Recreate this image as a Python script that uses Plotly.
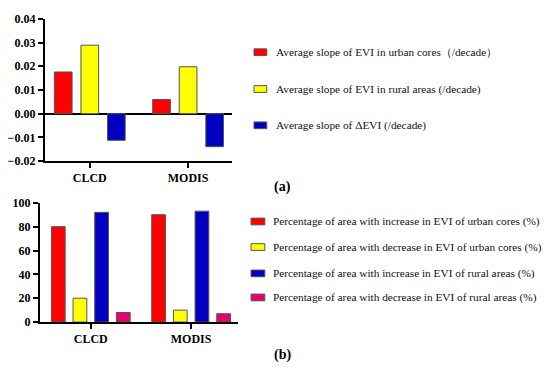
import plotly.graph_objects as go

# Page is rendered with an 8px body margin, so positions below are page pixels
# converted into figure (paper) coordinates.
OFF = 8
W, H = 550 - OFF, 373 - OFF

categories = ["CLCD", "MODIS"]

# Panel (a): average slopes (/decade)
slope_urban = [0.0176, 0.0060]
slope_rural = [0.0289, 0.0198]
slope_delta = [-0.0112, -0.0139]
names_a = [
    "Average slope of EVI in urban cores（/decade）",
    "Average slope of EVI in rural areas (/decade)",
    "Average slope of ΔEVI (/decade)",
]

# Panel (b): percentage of area (%)
pct_inc_urban = [80, 90]
pct_dec_urban = [20, 10]
pct_inc_rural = [92, 93]
pct_dec_rural = [8, 7]
names_b = [
    "Percentage of area with increase in EVI of urban cores (%)",
    "Percentage of area with decrease in EVI of urban cores (%)",
    "Percentage of area with increase in EVI of rural areas (%)",
    "Percentage of area with decrease in EVI of rural areas (%)",
]

yticks_a = [-0.02, -0.01, 0.0, 0.01, 0.02, 0.03, 0.04]
yticks_b = [0, 20, 40, 60, 80, 100]

colors_a = ["#FF0000", "#FFFF00", "#0000C0"]
colors_b = ["#FF0000", "#FFFF00", "#0000C0", "#E8036C"]
outline = "#555555"
FONT = "Liberation Serif"

fig = go.Figure()

# panel a bars
wa = 0.18
centers_a = [-0.27, 0.0, 0.27]
for vals, col, nm, c in zip([slope_urban, slope_rural, slope_delta], colors_a, names_a, centers_a):
    fig.add_trace(go.Bar(x=categories, y=vals, name=nm, marker_color=col,
                         marker_line=dict(color=outline, width=1),
                         width=wa, offset=c - wa / 2, xaxis="x", yaxis="y",
                         showlegend=False))

# panel b bars
wb = 0.137
centers_b = [-0.324, -0.108, 0.108, 0.324]
for vals, col, nm, c in zip([pct_inc_urban, pct_dec_urban, pct_inc_rural, pct_dec_rural],
                            colors_b, names_b, centers_b):
    fig.add_trace(go.Bar(x=categories, y=vals, name=nm, marker_color=col,
                         marker_line=dict(color=outline, width=1),
                         width=wb, offset=c - wb / 2, xaxis="x2", yaxis="y2",
                         showlegend=False))

def px(x):
    return (x - OFF) / W

def py(y):
    return 1 - (y - OFF) / H

axis_common = dict(showgrid=False, showline=True, linecolor="black", linewidth=1.5,
                   ticks="outside", tickcolor="black", tickwidth=1.5, ticklen=5,
                   tickfont=dict(family=FONT, size=12, color="black", weight="bold"))

fig.update_layout(
    width=W, height=H, margin=dict(l=0, r=0, t=0, b=0),
    plot_bgcolor="white", paper_bgcolor="white", barmode="overlay",
    font=dict(family=FONT, color="black"),
    xaxis=dict(domain=[px(36), px(227)], anchor="y", type="category",
               range=[-0.46, 1.45], **axis_common),
    yaxis=dict(domain=[py(160), py(12)], anchor="x", range=[-0.02, 0.04],
               tickvals=yticks_a, tickformat=".2f", zeroline=True,
               zerolinecolor="black", zerolinewidth=1.5, **axis_common),
    xaxis2=dict(domain=[px(31), px(233)], anchor="y2", type="category",
                range=[-0.51, 1.47], **axis_common),
    yaxis2=dict(domain=[py(327.3), py(203.3)], anchor="x2", range=[0, 100],
                tickvals=yticks_b, zeroline=False, **axis_common),
)

shapes = []
annotations = []
rows_a = [46.7, 85, 122.7]
for y, col, nm in zip(rows_a, colors_a, names_a):
    shapes.append(dict(type="rect", xref="paper", yref="paper",
                       x0=px(249), x1=px(262), y0=py(y + 3.5), y1=py(y - 3.5),
                       fillcolor=col, line=dict(color=outline, width=1)))
    annotations.append(dict(x=px(269), y=py(y), xref="paper", yref="paper",
                            text=nm, showarrow=False, xanchor="left", yanchor="middle",
                            font=dict(family=FONT, size=11.3, color="#111")))
rows_b = [222.7, 249.3, 276.7, 301.7]
for y, col, nm in zip(rows_b, colors_b, names_b):
    shapes.append(dict(type="rect", xref="paper", yref="paper",
                       x0=px(246), x1=px(260), y0=py(y + 3.5), y1=py(y - 3.5),
                       fillcolor=col, line=dict(color=outline, width=1)))
    annotations.append(dict(x=px(266), y=py(y), xref="paper", yref="paper",
                            text=nm, showarrow=False, xanchor="left", yanchor="middle",
                            font=dict(family=FONT, size=11.3, color="#111")))

annotations.append(dict(x=px(278), y=py(187), xref="paper", yref="paper", text="(a)",
                        showarrow=False, xanchor="center", yanchor="middle",
                        font=dict(family=FONT, size=14, color="black", weight="bold")))
annotations.append(dict(x=px(278), y=py(362), xref="paper", yref="paper", text="(b)",
                        showarrow=False, xanchor="center", yanchor="middle",
                        font=dict(family=FONT, size=14, color="black", weight="bold")))

fig.update_layout(shapes=shapes, annotations=annotations)
fig.write_html("out.html")
